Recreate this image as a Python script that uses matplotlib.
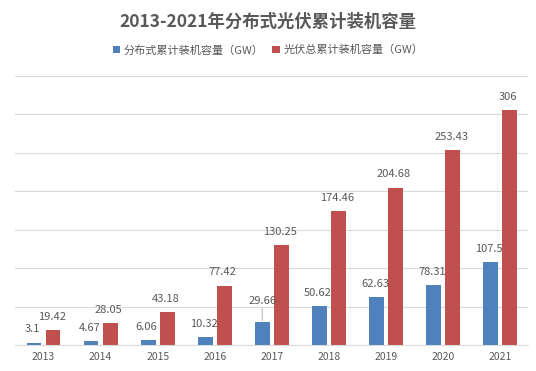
import numpy as np
import matplotlib
matplotlib.use('Agg')
from matplotlib import pyplot as plt

plt.rcParams['font.family'] = ['Noto Sans CJK SC', 'DejaVu Sans']

years = ['2013', '2014', '2015', '2016', '2017', '2018', '2019', '2020', '2021']
distributed = [3.1, 4.67, 6.06, 10.32, 29.66, 50.62, 62.63, 78.31, 107.5]
total = [19.42, 28.05, 43.18, 77.42, 130.25, 174.46, 204.68, 253.43, 306]
series_names = ['分布式累计装机容量（GW）', '光伏总累计装机容量（GW）']

blue = '#4F81BD'
red = '#C0504D'
txt = '#595959'

fig = plt.figure(figsize=(5.36, 3.71), dpi=100)
ax = fig.add_axes([0.028, 0.070, 0.958, 0.725])

x = np.arange(len(years))
w = 0.26
off = 0.167
b1 = ax.bar(x - off, distributed, w, color=blue, label=series_names[0])
b2 = ax.bar(x + off, total, w, color=red, label=series_names[1])

for xi, v in zip(x, distributed):
    lab = '%g' % v
    if lab == '29.66':
        ax.annotate(lab, (xi - off, v), xytext=(0, 12), textcoords='offset points',
                    ha='center', va='bottom', fontsize=8, color=txt,
                    arrowprops=dict(arrowstyle='-', color='#A6A6A6', lw=0.6,
                                    shrinkA=0, shrinkB=1))
    else:
        ax.annotate(lab, (xi - off, v), xytext=(-1, 6), textcoords='offset points',
                    ha='center', va='bottom', fontsize=8, color=txt)
for xi, v in zip(x, total):
    ax.annotate('%g' % v, (xi + off, v), xytext=(-1, 6), textcoords='offset points',
                ha='center', va='bottom', fontsize=8, color=txt)

ax.set_xlim(-0.5, len(years) - 0.5)
ax.set_ylim(0, 350)
ax.set_yticks(np.arange(0, 351, 50))
ax.set_yticklabels([])
ax.set_xticks(x)
ax.set_xticklabels(years, fontsize=7.5, color=txt)
ax.tick_params(axis='both', length=0)
ax.tick_params(axis='x', pad=5)
ax.grid(axis='y', color='#D9D9D9', lw=0.8)
ax.set_axisbelow(True)
for s in ['top', 'left', 'right']:
    ax.spines[s].set_visible(False)
ax.spines['bottom'].set_color('#D9D9D9')

fig.text(0.5, 0.94, '2013-2021年分布式光伏累计装机容量', ha='center', va='center',
         fontsize=12.5, fontweight='bold', color=txt)
fig.legend(handles=[b1, b2], loc='center', bbox_to_anchor=(0.5, 0.865), ncol=2,
           frameon=False, fontsize=8, handlelength=0.7, handleheight=0.7,
           handletextpad=0.3, columnspacing=0.8, labelcolor=txt)

fig.savefig('out.png', dpi=100)
